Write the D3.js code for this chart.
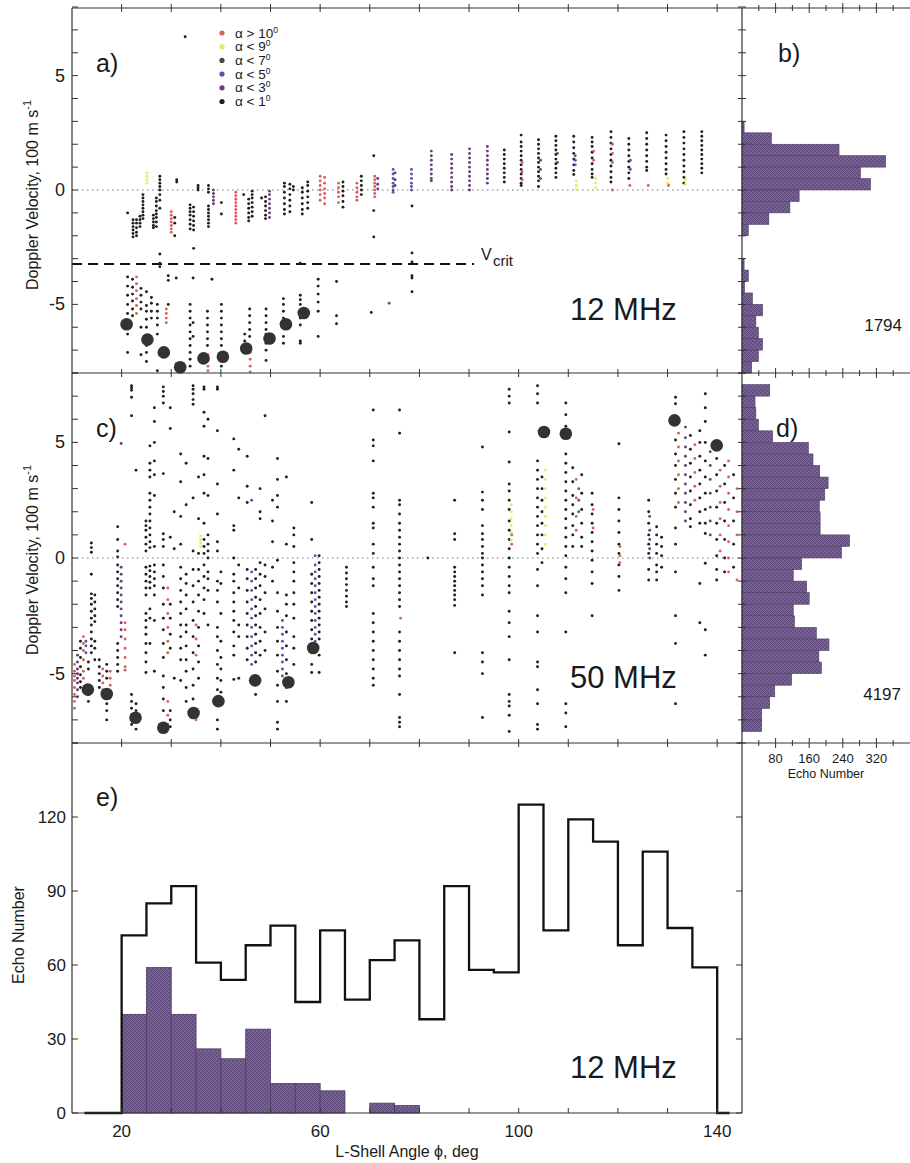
<!DOCTYPE html>
<html>
<head>
<meta charset="utf-8">
<script src="https://cdnjs.cloudflare.com/ajax/libs/d3/7.8.5/d3.min.js"></script>
<style>
body { margin: 0; background: #fff; }
svg { font-family: "Liberation Sans", Arial, sans-serif; }
</style>
</head>
<body>
<svg id="chart" width="910" height="1163"></svg>
<script>
/* global d3 */

// legend classes: r a>10, y a<9, g a<7, b a<5, p a<3, k a<1
var legendItems = [["r", "\u03b1 > 10"], ["y", "\u03b1 < 9"], ["g", "\u03b1 < 7"],
                   ["b", "\u03b1 < 5"], ["p", "\u03b1 < 3"], ["k", "\u03b1 < 1"]];

// panel a (12 MHz): columns [L-shell angle, class, velocities (100 m/s)]
var aCols = [
  [21.2,'k',[-1.0]],
  [22.3,'k',[-1.3,-1.45,-1.6,-1.75,-1.9,-2.05]],
  [23.0,'k',[-1.3,-1.45,-1.65,-1.85,-2.0]],
  [23.7,'k',[-1.15,-1.3,-1.45,-1.6]],
  [24.3,'k',[-0.2,-0.35,-0.5,-0.65,-0.8,-0.95,-1.1,-1.25]],
  [25.1,'y',[0.3,0.45,0.6,0.75]],
  [26.4,'k',[-1.1,-1.25,-1.4,-1.55,-1.65]],
  [27.0,'k',[-0.35,-0.5,-0.7,-0.9,-1.05,-1.2,-1.4,-1.6]],
  [27.7,'k',[0.6,0.45,0.3,0.15,0.0,-0.2,-0.45,-0.8,-2.8,-3.2,-3.35]],
  [30.0,'r',[-0.95,-1.1,-1.25,-1.4,-1.55,-1.7,-1.85]],
  [30.7,'k',[-1.2,-1.45,-2.0]],
  [31.1,'k',[0.45,0.35]],
  [33.8,'k',[-0.65,-0.8,-0.95,-1.1,-1.3,-1.5,-1.7]],
  [34.5,'k',[-0.75,-0.95,-1.15,-1.35,-1.55,-1.75,-2.55]],
  [35.4,'k',[0.2,0.1,0.0]],
  [37.5,'k',[0.2,0.05,-0.1,-0.7,-0.85,-1.0,-1.15,-1.3,-1.45,-1.6]],
  [38.5,'p',[0.0,-0.15,-0.3,-0.45,-0.6]],
  [40.1,'k',[-0.55,-1.05]],
  [43.0,'r',[-0.1,-0.25,-0.4,-0.55,-0.7,-0.85,-1.0,-1.15,-1.3,-1.45]],
  [44.6,'k',[-0.2]],
  [45.6,'k',[-0.4,-0.6,-0.8,-1.0,-1.2,-1.35]],
  [46.3,'k',[-0.05,-0.2,-0.35,-0.55,-0.75,-0.95,-1.15]],
  [48.2,'k',[-0.35]],
  [49.0,'k',[-0.3,-0.5,-0.7,-0.9,-1.1,-1.25]],
  [49.8,'p',[-0.05,-0.2,-0.4,-0.6,-0.8,-1.0,-1.2]],
  [52.8,'k',[0.3,0.15,-0.1,-0.35,-0.6,-0.85,-1.05]],
  [53.9,'k',[0.25,0.05,-0.2,-0.45,-0.7,-0.95]],
  [54.6,'k',[0.15,0.0]],
  [56.4,'k',[0.1,-0.1,-0.35,-0.6,-0.85,-1.05]],
  [57.5,'k',[0.35,0.2,-0.05,-0.3,-0.55,-0.8]],
  [60.0,'r',[0.6,0.4,0.2,0.0,-0.2,-0.45]],
  [60.9,'r',[0.55,0.3,0.05,-0.15,-0.35,-0.6]],
  [63.7,'r',[0.3,0.1,-0.1,-0.3,-0.55]],
  [64.6,'k',[0.35,0.15,-0.05,-0.25,-0.5,-0.75]],
  [67.4,'r',[0.3,0.1,-0.1,-0.3,-0.45]],
  [68.3,'k',[0.6,0.4,0.2,0.0,-0.2]],
  [70.8,'k',[1.5,-0.9,-2.05]],
  [71.0,'r',[0.6,0.45,0.3,0.15,0.0,-0.15,-0.3]],
  [71.6,'p',[0.5,0.25,0.05]],
  [74.7,'b',[0.9,0.7,0.5,0.3,0.15,0.0,-0.1]],
  [75.1,'p',[0.75,0.45,0.2]],
  [78.4,'b',[0.9,0.7,0.5,0.3,0.15,0.0]],
  [78.5,'k',[-0.7,-2.75,-3.15,-3.75,-3.85,-4.45]],
  [82.4,'p',[1.7,1.5,1.3,1.1,0.9,0.7,0.5,0.4]],
  [86.5,'p',[1.55,1.35,1.15,0.95,0.75,0.55,0.35,0.15,0.0]],
  [90.1,'p',[1.8,1.6,1.4,1.2,1.0,0.8,0.6,0.4,0.2,0.0]],
  [93.7,'p',[1.9,1.7,1.5,1.3,1.1,0.9,0.7,0.5,0.3]],
  [97.1,'k',[1.75,1.55,1.35,1.15,0.95,0.75,0.55,0.35]],
  [100.5,'k',[2.4,2.1,1.9,1.7,1.5,1.3,1.1,0.9,0.7,0.5,0.3,0.2]],
  [100.7,'r',[1.2,0.8,0.45]],
  [104.0,'k',[2.2,2.0,1.8,1.6,1.4,1.2,1.0,0.8,0.6,0.4,0.15]],
  [104.4,'p',[1.3,0.9,0.5]],
  [107.5,'k',[2.35,2.15,1.95,1.75,1.55,1.35,1.15,0.95,0.75,0.55]],
  [107.8,'p',[1.6,1.2]],
  [111.1,'k',[2.35,2.1,1.85,1.6,1.35,1.1,0.85,0.68]],
  [111.4,'b',[1.5,1.3,1.1]],
  [111.6,'y',[0.4,0.2,0.05]],
  [114.8,'k',[2.3,2.1,1.9,1.65,1.4,1.15,0.9,0.7,0.55]],
  [115.1,'r',[1.7,1.3]],
  [115.5,'y',[0.5,0.3,0.1]],
  [118.6,'k',[2.55,2.3,2.05,1.8,1.55,1.3,1.05,0.8,0.55,0.35]],
  [118.9,'r',[2.0,1.6,1.2,0.0]],
  [122.2,'k',[2.25,2.0,1.75,1.5,1.25,1.0,0.75,0.5]],
  [122.5,'b',[1.3,0.9]],
  [122.4,'r',[0.2]],
  [125.8,'k',[2.5,2.25,2.0,1.75,1.5,1.25,1.0,0.85]],
  [126.1,'r',[0.2]],
  [129.7,'k',[2.4,2.15,1.9,1.65,1.4,1.15,0.9,0.7]],
  [130.0,'y',[0.5,0.3]],
  [130.2,'r',[0.2]],
  [133.3,'k',[2.55,2.3,2.05,1.8,1.55,1.3,1.05,0.8,0.55,0.3]],
  [133.6,'y',[0.45,0.25]],
  [136.9,'k',[2.55,2.35,2.15,1.95,1.75,1.55,1.35,1.15,0.95,0.75]],
  [21.2,'k',[-3.8,-4.2,-4.6,-5.0,-5.4,-6.3,-7.1]],
  [22.2,'k',[-3.9,-4.25,-4.55,-4.85,-5.2,-5.5]],
  [23.0,'r',[-3.8,-4.1,-4.4,-4.75,-5.05,-5.4]],
  [23.9,'k',[-4.3,-4.6,-4.9,-5.2,-6.0,-7.2]],
  [25.0,'k',[-4.45,-5.05,-5.3,-5.65,-6.0,-6.8,-7.1,-7.5]],
  [26.0,'k',[-4.7,-4.95,-5.3,-5.6]],
  [27.2,'k',[-5.0,-5.3,-5.6,-5.9,-6.3,-7.9]],
  [29.0,'r',[-5.2,-5.4,-5.6,-5.8]],
  [29.4,'k',[-3.75,-3.95,-5.0]],
  [31.0,'k',[-3.85,-7.6]],
  [32.8,'k',[6.7]],
  [33.8,'k',[-5.0,-5.3,-5.6,-5.9,-6.2,-6.5,-6.8,-7.1,-7.4,-7.7]],
  [34.4,'k',[-3.85,-5.8,-6.4]],
  [37.3,'k',[-5.3,-5.6,-5.9,-6.2,-6.5,-6.8]],
  [37.4,'r',[-7.2,-7.45,-7.7,-7.9]],
  [38.2,'k',[-3.9]],
  [40.1,'k',[-5.0,-5.3,-5.6,-5.9,-6.2,-6.5,-6.8,-7.1,-7.4,-7.7]],
  [44.8,'k',[-6.3,-6.6,-6.9]],
  [45.8,'k',[-5.2,-5.5,-5.8,-6.1,-6.4]],
  [45.9,'r',[-7.1,-7.4,-7.7,-7.95]],
  [49.1,'k',[-5.2,-5.5,-5.8,-6.1,-6.3,-6.7,-7.0,-7.45]],
  [52.6,'k',[-4.75,-5.0,-5.3,-5.6,-6.0,-6.4,-6.7]],
  [56.0,'k',[-3.2,-4.6,-4.8,-5.0,-5.6,-5.9,-6.6,-6.7]],
  [59.6,'k',[-3.9,-4.2,-4.55,-4.9,-5.3,-6.4]],
  [63.3,'k',[-4.0,-5.5,-5.85]],
  [70.3,'k',[-5.35]],
  [73.9,'b',[-4.95]]
];
var aMedians = [[21.0,-5.87],[25.2,-6.54],[28.5,-7.1],[31.8,-7.75],[36.5,-7.36],
                [40.4,-7.29],[45.1,-6.93],[49.8,-6.49],[53.1,-5.87],[56.7,-5.38]];
var vCrit = -3.23;

// panel c (50 MHz)
var cCols = [
  [10.5,'r',[-4.6,-4.9,-5.1,-5.3,-5.6,-5.9,-6.2,-6.5]],
  [11.1,'p',[-4.2,-4.5,-4.8,-5.0,-5.2,-5.4,-5.7,-6.0]],
  [11.7,'k',[-3.6,-3.9,-4.3,-4.7,-5.05,-5.35,-5.6]],
  [12.3,'r',[-3.4,-3.7,-4.0,-4.4,-4.9,-5.2]],
  [12.8,'b',[-3.6,-3.8,-4.1]],
  [13.3,'k',[-4.5,-4.8,-5.9,-6.2]],
  [13.9,'k',[0.65,0.45,0.25,-0.7,-1.55,-1.75,-2.0,-2.3,-2.6,-2.9,-3.2,-3.5,-3.8,-4.1]],
  [14.6,'k',[-1.6,-1.9,-2.2,-2.5,-2.75,-3.6,-3.9,-4.4]],
  [15.5,'k',[-4.4,-4.7,-5.0,-5.3,-5.6]],
  [16.2,'r',[-4.8,-5.1,-5.4,-5.7,-6.0]],
  [17.0,'k',[-4.6,-4.9,-5.2,-6.3,-6.6,-7.0]],
  [17.7,'r',[-4.9,-5.2,-5.5]],
  [19.2,'k',[1.35,0.8,0.3,0.05,-0.3,-0.6,-0.9,-1.2,-1.5,-1.8,-2.1,-3.7,-4.0,-4.3,-4.6,-4.9]],
  [19.9,'p',[4.95,-0.4,-0.7,-1.0,-1.3,-1.6,-1.9,-2.2,-2.5,-2.8,-3.1,-3.4]],
  [20.7,'r',[0.6,-2.8,-3.1,-3.5,-3.9,-4.3,-4.7,-4.85]],
  [22.0,'k',[7.45,7.35,7.25,6.95,6.15,-5.9,-6.2,-6.5,-6.8,-7.2]],
  [22.9,'k',[3.8,-6.3,-6.6,-7.0,-7.4]],
  [24.9,'k',[1.6,1.4,1.2,0.9,0.6,0.3,-0.4,-0.7,-1.0,-1.3,-1.6,-2.4,-2.7,-3.0,-3.3,-3.7,-4.1,-4.5,-4.95]],
  [25.7,'k',[4.85,4.1,3.8,3.5,2.8,2.5,2.2,1.9,1.6,1.3,1.0,0.7,0.45,-0.35,-0.55,-0.8,-1.05,-1.3,-2.2,-2.6,-3.7]],
  [26.6,'k',[6.5,5.9,5.0,4.2,3.6,2.7,0.5,-0.3,-0.6,-0.9,-1.2,-1.6,-2.7,-4.9]],
  [28.4,'k',[7.4,7.2,7.0,6.7,3.65,1.05,0.8,0.5,-0.3,-0.8,-1.3,-2.0,-2.6,-3.1,-3.7,-4.3,-5.1,-5.6,-6.1,-6.6]],
  [29.3,'r',[-1.3,-1.8,-2.4,-3.0,-3.6,-4.1,-6.2,-6.8,-7.2]],
  [29.8,'k',[6.5,5.6,0.9,-2.0,-2.6,-3.3,-3.9,-6.6,-7.0,-7.3]],
  [30.6,'k',[2.0,0.4,-5.2]],
  [31.9,'k',[4.5,3.3,1.8,0.6,-0.4,-0.9,-1.4,-1.9,-2.4,-2.9,-3.4,-3.9,-4.4,-5.3]],
  [33.0,'k',[4.1,2.3,-0.7,-1.1,-1.6,-2.2,-2.9,-3.2,-3.8,-4.4,-4.9,-5.6,-6.2]],
  [34.4,'k',[7.45,7.3,7.1,6.85,6.65,2.6,0.3,-0.5,-1.2,-1.9,-2.7,-3.4,-4.1,-4.8,-5.5,-6.1]],
  [35.0,'r',[-2.9,-3.5,-4.2,-6.6,-7.0]],
  [35.5,'k',[3.5,1.7,0.2,-0.5,-1.0,-1.6,-2.3,-3.0,-3.8,-4.5,-5.2]],
  [35.9,'y',[0.95,0.8,0.65,0.5]],
  [36.6,'k',[7.4,7.3,6.3,5.7,4.4,3.6,2.8,1.5,0.8,0.5,0.2,-0.3,-0.8,-1.3,-1.8,-2.4]],
  [37.4,'k',[6.0,4.3,2.7,1.0,0.6,0.3,0.0,-0.6,-0.9,-1.4,-2.9]],
  [39.3,'k',[7.4,7.3,5.5,3.2,1.9,0.7,0.3,-1.0,-1.4,-1.9,-3.0,-3.4,-4.0,-4.6,-5.2,-5.7,-7.0,-7.4]],
  [40.0,'k',[-0.6,-1.1,-2.4,-3.6,-4.3,-4.8,-5.3,-5.8]],
  [42.6,'k',[5.15,3.8,1.4,1.2,0.0,-0.7,-1.0,-1.5,-1.9,-2.3,-2.7,-3.2,-3.8,-4.2,-5.25]],
  [43.6,'k',[4.7,2.6,-0.3,-1.3,-2.9,-3.4,-5.2]],
  [45.3,'k',[4.4,3.1,2.4,-0.5,-0.9,-1.4,-1.9,-2.4,-2.9,-3.4,-3.9,-4.4]],
  [46.2,'b',[2.5,-0.6,-1.0,-1.4,-1.8,-2.2,-2.6,-3.0,-3.4,-3.8,-4.2,-4.6]],
  [47.0,'k',[-0.5,-0.9,-1.3,-1.7,-2.1,-2.5,-2.9,-3.3,-3.7,-4.1,-4.5,-5.9]],
  [47.9,'k',[3.0,1.7,2.0,-0.2,-0.7,-1.2,-1.8,-2.4,-3.0,-3.6,-4.2]],
  [48.9,'k',[6.15,-0.3,-0.8,-1.5,-2.2,-3.2,-4.0]],
  [50.4,'k',[2.5,1.6,0.7,-0.4,-1.0]],
  [51.4,'k',[4.3,3.4,2.7,2.2,-0.1,-1.5,-2.3,-3.0,-3.6,-4.2,-4.9,-5.5,-6.2,-7.1,-7.4]],
  [52.4,'b',[-2.7,-3.0,-3.3,-3.6,-3.9,-4.2,-4.5,-4.8,-5.1]],
  [53.2,'k',[3.5,0.6,-1.6,-2.0,-2.5,-3.2,-3.8,-4.4,-5.0,-5.6,-6.2]],
  [54.7,'k',[1.3,1.0,0.5,-0.2,-0.6,-1.0,-1.5,-2.0,-2.6,-3.4,-3.9,-4.6]],
  [58.3,'k',[2.4,0.8,-0.7,-1.1,-1.5,-1.9,-2.3,-2.7,-3.1,-3.5,-4.0,-4.6,-4.95]],
  [59.0,'b',[0.1,-0.3,-0.6,-0.9,-1.2,-1.5,-1.8,-2.1,-2.4,-2.7,-3.0,-3.3,-3.6]],
  [59.8,'k',[0.1,-0.2,-0.5,-0.8,-1.1,-1.4,-1.7,-2.0,-2.3,-2.6,-2.9,-3.2,-3.5,-4.2,-4.95]],
  [65.3,'k',[-0.4,-0.65,-0.9,-1.15,-1.4,-1.65,-1.9,-2.1]],
  [70.7,'k',[6.4,5.1,4.85,4.2,2.8,2.6,2.2,1.5,1.3,0.6,0.2,-0.4,-0.9,-1.2,-2.4,-2.8,-3.2,-3.6,-4.0,-4.4,-4.8,-5.2,-5.5]],
  [76.0,'k',[6.4,5.4,2.5,2.3,1.9,1.5,1.2,0.9,0.6,0.3,0.0,-0.3,-0.6,-0.9,-1.2,-1.5,-1.8,-2.1,-3.2,-3.6,-4.0,-4.4,-4.8,-5.1,-5.9,-6.9,-7.1,-7.3]],
  [76.2,'r',[-2.6]],
  [81.7,'k',[0.0]],
  [87.1,'k',[2.5,1.05,0.8,-0.4,-0.6,-0.8,-1.0,-1.2,-1.4,-1.6,-1.8,-2.05,-4.1]],
  [92.7,'k',[4.8,2.85,2.5,2.1,1.4,1.05,0.8,0.5,0.2,0.0,-0.3,-0.6,-0.9,-1.2,-1.6,-4.1,-4.5,-5.0,-6.9]],
  [98.1,'k',[7.3,7.0,6.7,5.45,4.15,3.2,2.9,2.5,2.1,1.6,1.2,0.8,0.4,0.0,-0.4,-0.8,-1.2,-1.5,-2.3,-2.8,-3.4,-4.4,-5.9,-6.2,-6.4,-6.8,-7.5]],
  [98.5,'y',[2.3,2.0,1.7,1.4,1.1,0.8]],
  [98.6,'r',[1.0,0.6]],
  [103.8,'k',[7.45,7.1,6.7,4.2,3.8,3.4,3.0,2.6,2.2,1.8,1.4,1.0,0.6,0.2,-0.5,-1.2,-2.5,-3.2,-4.5,-4.7,-5.7,-6.3,-7.2,-7.4]],
  [104.7,'k',[3.5,3.0,2.5,2.0,1.5,1.0,0.4,-0.2]],
  [105.4,'y',[3.8,3.4,3.0,2.6,2.2,1.8,1.4,1.0,0.6]],
  [109.5,'k',[6.7,6.2,5.7,4.5,4.1,3.7,3.3,2.9,2.5,2.1,1.7,1.3,0.9,0.5,0.1,-0.4,-0.9,-1.5,-3.2,-6.3,-6.7,-7.3]],
  [110.9,'k',[3.9,3.3,2.7,2.3,1.9,1.4,1.0,0.5]],
  [111.6,'r',[3.4,2.6,1.8,1.2]],
  [112.1,'b',[3.0,2.5,2.0]],
  [112.7,'k',[3.6,2.8,2.1,1.5,0.9,0.5]],
  [114.8,'k',[2.8,2.3,1.9,1.5,1.1,0.7,0.3,-0.1,-0.6,-1.1,-2.5]],
  [115.0,'r',[2.1,1.3]],
  [120.2,'k',[4.94,2.6,2.1,1.6,1.1,0.6,0.2,-0.3,-0.8,-1.4]],
  [120.4,'r',[0.5,0.1,-0.2]],
  [126.2,'k',[2.5,2.0,1.5,1.0,0.6,0.2,-0.5,-0.95]],
  [126.4,'p',[1.8,1.2,0.8,0.4,0.0]],
  [127.8,'k',[1.35,1.0,0.6,0.2,-0.3,-0.6,-0.95]],
  [128.8,'k',[0.9,0.5,0.1,-0.4]],
  [131.6,'k',[6.95,6.67,5.1,4.5,4.0,3.4,2.8,2.2,1.3,0.6,-0.6,-2.5,-3.7,-6.3]],
  [132.2,'r',[5.4,4.8,4.2,3.6,3.0,2.4]],
  [133.6,'p',[5.66,5.2,4.8,4.4,4.0,3.6,3.2,2.8,2.4,2.0,1.6]],
  [134.6,'k',[5.3,4.7,4.1,3.5,2.9,2.3,1.7,1.35]],
  [135.5,'r',[4.9,4.3,3.7,3.1,2.5]],
  [136.5,'k',[5.5,5.0,4.4,3.8,3.2,2.6,2.0,1.5,-1.1,-2.8]],
  [137.6,'k',[7.1,6.5,5.9,5.0,4.2,3.5,2.8,2.1,1.5,1.06,-0.23,-3.1,-4.2]],
  [138.6,'p',[4.6,4.0,3.4,2.8,2.2,1.6,1.0]],
  [139.9,'k',[4.3,3.6,2.9,2.2,1.5,0.8,0.1,-0.5,-0.95]],
  [140.6,'r',[3.8,3.1,2.4,1.7,1.0,0.3]],
  [141.5,'k',[4.0,3.2,2.4,1.6,0.8,0.0,-0.6]],
  [142.3,'r',[4.2,3.5,2.8,2.1,1.4,0.7,0.0,-0.6]],
  [143.3,'k',[3.6,2.6,1.6,0.6,-0.4]],
  [144.0,'r',[3.0,2.0,1.0,-0.95]]
];
var cMedians = [[13.2,-5.69],[17.0,-5.88],[22.8,-6.91],[28.4,-7.34],[34.5,-6.7],[39.5,-6.19],
                [46.9,-5.29],[53.6,-5.37],[58.6,-3.89],[105.1,5.45],[109.5,5.37],[131.4,5.95],[139.9,4.87]];

// panels b and d: velocity bin lower edge (0.5 wide), echo count
var bBins = [[2.5,5],[2.0,70],[1.5,231],[1.0,342],[0.5,282],[0.0,306],[-0.5,136],[-1.0,114],
             [-1.5,64],[-2.0,15],[-2.5,0],[-3.0,0],[-3.5,5],[-4.0,15],[-4.5,6],[-5.0,25],
             [-5.5,49],[-6.0,33],[-6.5,39],[-7.0,49],[-7.5,39],[-8.0,23]];
var dBins = [[7.0,66],[6.5,31],[6.0,33],[5.5,39],[5.0,73],[4.5,158],[4.0,169],[3.5,185],
             [3.0,205],[2.5,197],[2.0,184],[1.5,186],[1.0,186],[0.5,256],[0.0,237],[-0.5,142],
             [-1.0,122],[-1.5,154],[-2.0,160],[-2.5,122],[-3.0,125],[-3.5,177],[-4.0,207],
             [-4.5,183],[-5.0,189],[-5.5,118],[-6.0,78],[-6.5,66],[-7.0,47],[-7.5,47]];
var bTotal = "1794", dTotal = "4197";

// panel e: 5 deg bins, lower edge
var eOutline = [[12.5,0],[15,0],[20,72],[25,85],[30,92],[35,61],[40,54],[45,68],[50,76],[55,45],
                [60,74],[65,46],[70,62],[75,70],[80,38],[85,92],[90,58],[95,57],[100,125],
                [105,74],[110,119],[115,110],[120,68],[125,106],[130,75],[135,59],[140,0],[142.5,0]];
var eFill = [[20,40],[25,59],[30,40],[35,26],[40,22],[45,34],[50,12],[55,12],[60,9],[70,4],[75,3]];

var xLabels = [20, 60, 100, 140];
var vLabels = [5, 0, -5];
var eLabels = [0, 30, 60, 90, 120];
var hLabels = [80, 160, 240, 320];

var colors = {r: "#d9625c", y: "#e2ec6c", g: "#474747", b: "#5755a8", p: "#6a3e7c", k: "#1f1f1f"};

var svg = d3.select("#chart");

var x = d3.scaleLinear().domain([10, 145]).range([72, 742]);
var yA = d3.scaleLinear().domain([-8, 8]).range([373, 7]);
var yC = d3.scaleLinear().domain([-8, 8]).range([743, 373]);
var yE = d3.scaleLinear().domain([0, 150]).range([1113, 743]);
var xH = d3.scaleLinear().domain([0, 400]).range([742, 910]);

var defs = svg.append("defs");
var pat = defs.append("pattern").attr("id", "hatch")
  .attr("patternUnits", "userSpaceOnUse").attr("width", 4).attr("height", 4);
pat.append("rect").attr("width", 4).attr("height", 4).attr("fill", "#6a5488");
pat.append("path").attr("d", "M0,4 L4,0").attr("stroke", "#8b7aa8").attr("stroke-width", 0.7);
pat.append("path").attr("d", "M0,0 L4,4").attr("stroke", "#56426f").attr("stroke-width", 0.5);

// side histograms
function sideHist(bins, y) {
  svg.append("g").selectAll("rect")
    .data(bins.filter(function(d) { return d[1] > 0; }))
    .enter().append("rect")
    .attr("x", xH(0))
    .attr("y", function(d) { return y(d[0] + 0.5); })
    .attr("width", function(d) { return xH(d[1]) - xH(0); })
    .attr("height", function(d) { return y(d[0]) - y(d[0] + 0.5); })
    .attr("fill", "url(#hatch)")
    .attr("stroke", "#4e3d66")
    .attr("stroke-width", 0.6);
}
sideHist(bBins, yA);
sideHist(dBins, yC);

// panel e
svg.append("g").selectAll("rect")
  .data(eFill)
  .enter().append("rect")
  .attr("x", function(d) { return x(d[0]); })
  .attr("y", function(d) { return yE(d[1]); })
  .attr("width", function(d) { return x(d[0] + 5) - x(d[0]); })
  .attr("height", function(d) { return yE(0) - yE(d[1]); })
  .attr("fill", "url(#hatch)")
  .attr("stroke", "#4e3d66")
  .attr("stroke-width", 0.8);

var stepLine = d3.line()
  .x(function(d) { return x(d[0]); })
  .y(function(d) { return yE(d[1]); })
  .curve(d3.curveStepAfter);
svg.append("path")
  .attr("d", stepLine(eOutline))
  .attr("fill", "none")
  .attr("stroke", "#111")
  .attr("stroke-width", 2.3);

// zero lines and V_crit
[yA, yC].forEach(function(y) {
  svg.append("line")
    .attr("x1", 72).attr("x2", 742).attr("y1", y(0)).attr("y2", y(0))
    .attr("stroke", "#777").attr("stroke-width", 1).attr("stroke-dasharray", "1.5,3.5");
});
svg.append("line")
  .attr("x1", 72).attr("x2", 474).attr("y1", yA(vCrit)).attr("y2", yA(vCrit))
  .attr("stroke", "#111").attr("stroke-width", 2).attr("stroke-dasharray", "10,6");

// scatter
function scatter(cols, meds, y) {
  var pts = [];
  cols.forEach(function(c) {
    c[2].forEach(function(v) { pts.push([c[0], v, c[1]]); });
  });
  svg.append("g").selectAll("circle")
    .data(pts)
    .enter().append("circle")
    .attr("cx", function(d) { return x(d[0]); })
    .attr("cy", function(d) { return y(d[1]); })
    .attr("r", 1.45)
    .attr("fill", function(d) { return colors[d[2]]; });
  svg.append("g").selectAll("circle")
    .data(meds)
    .enter().append("circle")
    .attr("cx", function(d) { return x(d[0]); })
    .attr("cy", function(d) { return y(d[1]); })
    .attr("r", 6.3)
    .attr("fill", "#333");
}
scatter(aCols, aMedians, yA);
scatter(cCols, cMedians, yC);

// frames
var frame = svg.append("g").attr("stroke", "#333").attr("stroke-width", 1.2).attr("fill", "none");
frame.append("path").attr("d", "M72,8 H910 M72,373 H910 M72,743 H910 M72,1113 H742 M72,8 V1113 M742,8 V1113");

// ticks
var tk = svg.append("g").attr("stroke", "#333").attr("stroke-width", 1);
d3.range(-8, 9).forEach(function(v) {
  [yA, yC].forEach(function(y) {
    tk.append("line").attr("x1", 72).attr("x2", 78).attr("y1", y(v)).attr("y2", y(v));
    tk.append("line").attr("x1", 738).attr("x2", 746).attr("y1", y(v)).attr("y2", y(v));
  });
});
d3.range(20, 145, 10).forEach(function(t) {
  [8, 373, 743].forEach(function(yy) {
    tk.append("line").attr("x1", x(t)).attr("x2", x(t)).attr("y1", yy - 4).attr("y2", yy + 4);
  });
  tk.append("line").attr("x1", x(t)).attr("x2", x(t)).attr("y1", 1113).attr("y2", 1108);
});
d3.range(40, 400, 40).forEach(function(t) {
  var len = t % 80 === 0 ? 5 : 3;
  [8, 373, 743].forEach(function(yy) {
    tk.append("line").attr("x1", xH(t)).attr("x2", xH(t)).attr("y1", yy - len).attr("y2", yy + len);
  });
});
d3.range(0, 151, 30).forEach(function(t) {
  tk.append("line").attr("x1", 72).attr("x2", 78).attr("y1", yE(t)).attr("y2", yE(t));
  tk.append("line").attr("x1", 736).attr("x2", 742).attr("y1", yE(t)).attr("y2", yE(t));
});

// tick labels
var txt = svg.append("g").attr("fill", "#1a1a1a");
[yA, yC].forEach(function(y) {
  vLabels.forEach(function(v) {
    txt.append("text").attr("x", 65).attr("y", y(v) + 6)
      .attr("text-anchor", "end").attr("font-size", 18).text(v);
  });
});
eLabels.forEach(function(v) {
  txt.append("text").attr("x", 66).attr("y", yE(v) + 6)
    .attr("text-anchor", "end").attr("font-size", 17).text(v);
});
xLabels.forEach(function(v) {
  txt.append("text").attr("x", x(v)).attr("y", 1137)
    .attr("text-anchor", "middle").attr("font-size", 17).text(v);
});
hLabels.forEach(function(v) {
  txt.append("text").attr("x", xH(v)).attr("y", 763)
    .attr("text-anchor", "middle").attr("font-size", 13).text(v);
});

// axis titles
txt.append("text").attr("x", 826).attr("y", 778).attr("text-anchor", "middle")
  .attr("font-size", 12.5).text("Echo Number");
txt.append("text").attr("x", 407).attr("y", 1157).attr("text-anchor", "middle")
  .attr("font-size", 16).text("L-Shell Angle \u03d5, deg");
[195, 560].forEach(function(cy) {
  var t = txt.append("text").attr("transform", "translate(38," + cy + ") rotate(-90)")
    .attr("text-anchor", "middle").attr("font-size", 16);
  t.append("tspan").text("Doppler Velocity, 100 m s");
  t.append("tspan").attr("font-size", 11).attr("dy", -7).text("-1");
});
txt.append("text").attr("transform", "translate(24,935) rotate(-90)")
  .attr("text-anchor", "middle").attr("font-size", 16).text("Echo Number");

// panel letters and annotations
[["a)", 96, 72], ["b)", 778, 62], ["c)", 96, 437], ["d)", 776, 437], ["e)", 96, 806]].forEach(function(p) {
  txt.append("text").attr("x", p[1]).attr("y", p[2]).attr("font-size", 25).text(p[0]);
});
[["12 MHz", 320], ["50 MHz", 688], ["12 MHz", 1078]].forEach(function(p) {
  txt.append("text").attr("x", 570).attr("y", p[1]).attr("font-size", 31).text(p[0]);
});
txt.append("text").attr("x", 902).attr("y", 331).attr("text-anchor", "end").attr("font-size", 17).text(bTotal);
txt.append("text").attr("x", 901).attr("y", 700).attr("text-anchor", "end").attr("font-size", 17).text(dTotal);
txt.append("text").attr("x", 481).attr("y", 260).attr("font-size", 16).text("V");
txt.append("text").attr("x", 493).attr("y", 266).attr("font-size", 15).text("crit");

// legend
var leg = svg.append("g").attr("transform", "translate(222,33)");
legendItems.forEach(function(d, i) {
  leg.append("circle").attr("cx", 0).attr("cy", i * 13.7).attr("r", 2.6).attr("fill", colors[d[0]]);
  var t = leg.append("text").attr("x", 13).attr("y", i * 13.7 + 4.5).attr("font-size", 13.5).attr("fill", "#1a1a1a");
  t.append("tspan").text(d[1]);
  t.append("tspan").attr("font-size", 8.5).attr("dy", -5).text("0");
});
</script>
</body>
</html>
